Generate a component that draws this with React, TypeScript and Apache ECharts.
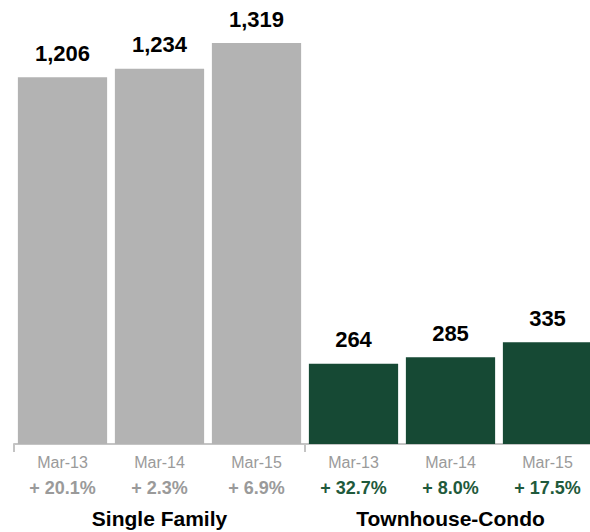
import React, { useEffect, useRef } from "react";
import * as echarts from "echarts";

const categories = ["Mar-13", "Mar-14", "Mar-15", "Mar-13", "Mar-14", "Mar-15"];
const values = [1206, 1234, 1319, 264, 285, 335];
const changes = ["+ 20.1%", "+ 2.3%", "+ 6.9%", "+ 32.7%", "+ 8.0%", "+ 17.5%"];
const groups = ["Single Family", "Townhouse-Condo"];
const groupOf = [0, 0, 0, 1, 1, 1];

const GREY = "#b3b3b3";
const GREEN = "#164934";
const FONT = "'Liberation Sans', Arial, Helvetica, sans-serif";

export default function App() {
  const ref = useRef<HTMLDivElement>(null);
  useEffect(() => {
    document.body.style.margin = "0";
    if (!ref.current) return;
    const chart = echarts.init(ref.current, null, { renderer: "svg" });
    chart.setOption({
      animation: false,
      textStyle: { fontFamily: FONT },
      grid: { left: 14, width: 582, top: 43, bottom: 88, containLabel: false },
      yAxis: { type: "value", min: 0, max: 1319, show: false },
      xAxis: [
        {
          type: "category",
          data: categories,
          position: "bottom",
          axisLine: { show: true, lineStyle: { color: "#c4c4c4", width: 2 } },
          axisTick: { show: false },
          axisLabel: {
            margin: 6,
            interval: 0,
            formatter: (v: string, i: number) =>
              `{a|${v}}\n{${groupOf[i] === 0 ? "g" : "h"}|${changes[i]}}`,
            rich: {
              a: { fontSize: 16, color: "#9a9a9a", lineHeight: 25, fontFamily: FONT },
              g: { fontSize: 18, fontWeight: "bold", color: "#9a9a9a", lineHeight: 25, fontFamily: FONT },
              h: { fontSize: 18, fontWeight: "bold", color: "#1f5a3c", lineHeight: 25, fontFamily: FONT },
            },
          },
        },
        {
          type: "category",
          data: groups,
          position: "bottom",
          offset: 0,
          axisLine: { show: false },
          axisTick: { show: true, length: 8, lineStyle: { color: "#c4c4c4", width: 2 } },
          axisLabel: {
            margin: 62,
            fontSize: 21,
            fontWeight: "bold",
            color: "#000",
            lineHeight: 24,
            fontFamily: FONT,
          },
        },
      ],
      series: [
        {
          type: "bar",
          xAxisIndex: 0,
          barCategoryGap: "8%",
          data: values.map((v, i) => ({
            value: v,
            itemStyle: { color: groupOf[i] === 0 ? GREY : GREEN },
          })),
          label: {
            show: true,
            position: "top",
            distance: 13,
            fontSize: 22,
            fontWeight: "bold",
            color: "#000",
            fontFamily: FONT,
            formatter: (p: any) => Number(p.value).toLocaleString("en-US"),
          },
        },
      ],
    });
    return () => chart.dispose();
  }, []);
  return (
    <div style={{ width: 590, height: 532, overflow: "hidden", position: "relative" }}>
      <div ref={ref} style={{ width: 600, height: 532 }} />
    </div>
  );
}
